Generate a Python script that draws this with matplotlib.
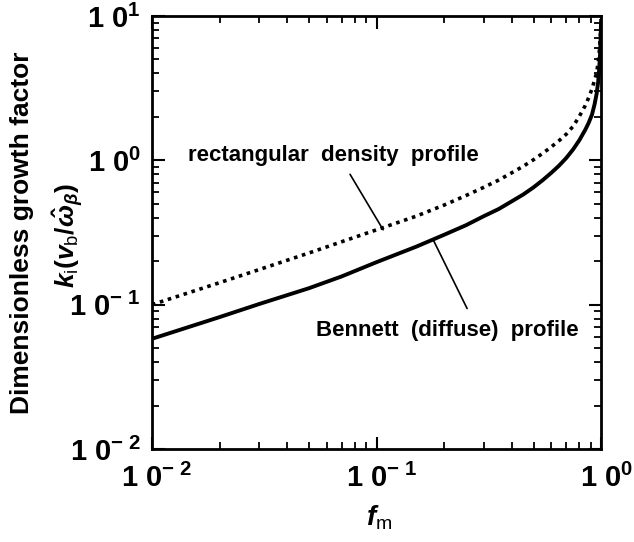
import matplotlib
matplotlib.use('Agg')
import matplotlib.pyplot as plt
import matplotlib.transforms as mtransforms

plt.rcParams['font.family'] = ['Liberation Sans', 'DejaVu Sans']
plt.rcParams['mathtext.fontset'] = 'custom'
plt.rcParams['mathtext.rm'] = 'Liberation Sans:bold'
plt.rcParams['mathtext.it'] = 'Liberation Sans:italic:bold'
plt.rcParams['mathtext.bf'] = 'Liberation Sans:bold'

# rectangular density profile (dotted)
f_rect = [0.01, 0.02, 0.03, 0.05, 0.07, 0.1, 0.15, 0.2, 0.25, 0.3, 0.35, 0.4,
          0.45, 0.5, 0.55, 0.6, 0.65, 0.7, 0.75, 0.8, 0.85, 0.88, 0.91, 0.935,
          0.955, 0.97, 0.98, 0.99, 1.0]
k_rect = [0.100, 0.142, 0.175, 0.228, 0.273, 0.33, 0.41, 0.49, 0.57, 0.65,
          0.73, 0.82, 0.91, 1.01, 1.12, 1.24, 1.37, 1.52, 1.72, 2.02, 2.4,
          2.72, 3.12, 3.6, 4.05, 4.8, 5.5, 7.0, 9.5]

# Bennett (diffuse) profile (solid)
f_benn = [0.01, 0.02, 0.03, 0.05, 0.07, 0.1, 0.15, 0.2, 0.25, 0.3, 0.35, 0.4,
          0.45, 0.5, 0.55, 0.6, 0.65, 0.7, 0.75, 0.8, 0.85, 0.88, 0.91, 0.935,
          0.955, 0.97, 0.98, 0.988, 0.994, 1.0]
k_benn = [0.058, 0.082, 0.101, 0.13, 0.157, 0.197, 0.252, 0.305, 0.355, 0.41,
          0.46, 0.52, 0.58, 0.65, 0.73, 0.82, 0.92, 1.04, 1.19, 1.38, 1.63,
          1.82, 2.07, 2.45, 2.9, 3.5, 4.3, 5.3, 6.8, 9.5]

xticks = [0.01, 0.1, 1.0]
xticklabels = ['1 0$^{\\mathregular{-\\ 2}}$', '1 0$^{\\mathregular{-\\ 1}}$',
               '1 0$^{\\mathregular{0}}$']
yticks = [0.01, 0.1, 1.0, 10.0]
yticklabels = ['1 0$^{\\mathregular{-\\ 2}}$', '1 0$^{\\mathregular{-\\ 1}}$',
               '1 0$^{\\mathregular{0}}$', '1 0$^{\\mathregular{1}}$']

fig = plt.figure(figsize=(6.34, 5.42), dpi=100)
ax = fig.add_axes([0.2397, 0.1716, 0.7085, 0.7989])

ax.plot(f_rect, k_rect, color='black', lw=2.6, linestyle=(0, (1.0, 1.3)),
        dash_capstyle='butt')
ax.plot(f_benn, k_benn, color='black', lw=2.8, solid_capstyle='butt')

ax.set_xscale('log')
ax.set_yscale('log')
ax.set_xlim(0.01, 1.0)
ax.set_ylim(0.01, 10.0)

ax.set_xticks(xticks)
ax.set_xticklabels(xticklabels, fontsize=21, fontweight='bold')
ax.set_yticks(yticks)
ax.set_yticklabels(yticklabels, fontsize=21, fontweight='bold')
ax.tick_params(which='major', direction='in', length=9, width=1.5,
               top=True, right=True, pad=8)
ax.tick_params(axis='x', which='major', pad=11)
ax.tick_params(which='minor', direction='in', length=5, width=1.3,
               top=True, right=True)
for s in ax.spines.values():
    s.set_linewidth(2)

shift = mtransforms.ScaledTranslation(5 / 100, 0, fig.dpi_scale_trans)
for lab in ax.get_xticklabels():
    lab.set_transform(lab.get_transform() + shift)

# annotations
ax.text(0.064, 1.08, 'rectangular  density  profile', fontsize=16,
        fontweight='bold', ha='center', va='center')
ax.annotate('', xy=(0.107, 0.33), xytext=(0.0762, 0.80),
            arrowprops=dict(arrowstyle='-', color='black', lw=1.2,
                            shrinkA=0, shrinkB=0))
ax.text(0.206, 0.066, 'Bennett  (diffuse)  profile', fontsize=16,
        fontweight='bold', ha='center', va='center')
ax.annotate('', xy=(0.179, 0.28), xytext=(0.253, 0.094),
            arrowprops=dict(arrowstyle='-', color='black', lw=1.2,
                            shrinkA=0, shrinkB=0))

fig.text(0.598, 0.045, '$f_{\\mathregular{m}}$', fontsize=20,
         ha='center', va='center')
fig.text(0.035, 0.57, 'Dimensionless growth factor', rotation=90,
         fontsize=19, fontweight='bold', ha='center', va='center')
fig.text(0.108, 0.565,
         '$k_{\\mathregular{i}}(v_{\\mathregular{b}}/\\hat{\\omega}_{\\beta})$',
         rotation=90, fontsize=19, ha='center', va='center')

fig.savefig('out.png', dpi=100)
